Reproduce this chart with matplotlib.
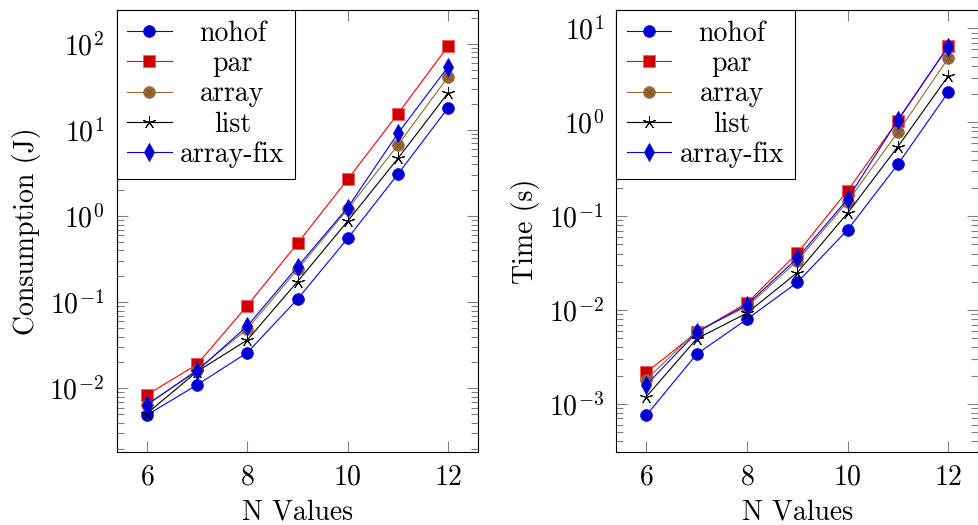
import matplotlib
matplotlib.use("Agg")
import matplotlib.pyplot as plt
from matplotlib.legend_handler import HandlerTuple

plt.rcParams['font.family'] = ['cmr10', 'DejaVu Serif']
plt.rcParams['mathtext.fontset'] = 'cm'
plt.rcParams['axes.formatter.use_mathtext'] = True
plt.rcParams['axes.unicode_minus'] = True

n_values = [6, 7, 8, 9, 10, 11, 12]
series_names = ["nohof", "par", "array", "list", "array-fix"]

energy_nohof = [0.0049, 0.011, 0.026, 0.109, 0.553, 3.09, 18.2]
energy_par = [0.0084, 0.019, 0.0914, 0.484, 2.68, 15.5, 94.8]
energy_array = [0.0064, 0.0164, 0.049, 0.241, 1.21, 6.71, 41.8]
energy_list = [0.0051, 0.0157, 0.0365, 0.174, 0.879, 4.70, 27.2]
energy_arrayfix = [0.0065, 0.016, 0.053, 0.259, 1.26, 9.18, 54.5]

time_nohof = [0.00076, 0.0034, 0.0080, 0.0197, 0.0715, 0.357, 2.08]
time_par = [0.00217, 0.0058, 0.0119, 0.0404, 0.187, 1.04, 6.48]
time_array = [0.00182, 0.0060, 0.0109, 0.0334, 0.143, 0.784, 4.8]
time_list = [0.0012, 0.00495, 0.0093, 0.0251, 0.108, 0.55, 3.11]
time_arrayfix = [0.0016, 0.0058, 0.0114, 0.0357, 0.152, 1.06, 6.38]

x_ticks = [6, 8, 10, 12]

BLUE = (0, 0, 1)
BLUE_FILL = (0, 0, 0.8)
RED = (1, 0, 0)
RED_FILL = (0.8, 0, 0)
BROWN = (0.6, 0.4, 0.2)
BROWN_DARK = (0.45, 0.3, 0.15)

LW = 0.8
MS = 8.4

fig = plt.figure(figsize=(9.79, 5.25), dpi=100)
ax1 = fig.add_axes([0.1192, 0.1396, 0.3694, 0.8413])
ax2 = fig.add_axes([0.6295, 0.1396, 0.3698, 0.8413])


def draw(ax, data, ylabel, ylim):
    nohof, par, arr, lst, afix = data
    h1, = ax.plot(n_values, nohof, color=BLUE, lw=LW, marker='o', ms=MS,
                  mfc=BLUE_FILL, mec=BLUE, mew=0.6)
    h2, = ax.plot(n_values, par, color=RED, lw=LW, marker='s', ms=MS,
                  mfc=RED_FILL, mec=(1, 0.35, 0.35), mew=0.6)
    h3, = ax.plot(n_values, arr, color=BROWN, lw=LW, marker='o', ms=MS,
                  mfc=BROWN, mec=BROWN, mew=0.6)
    h3x, = ax.plot(n_values, arr, color=BROWN_DARK, lw=0, marker='x',
                   ms=MS * 0.55, mew=0.6)
    h4, = ax.plot(n_values, lst, color='black', lw=LW, marker=(5, 2, 0),
                  ms=MS * 1.1, mew=0.7)
    h5, = ax.plot(n_values, afix, color=BLUE, lw=LW, marker='d', ms=MS * 1.1,
                  mfc=BLUE_FILL, mec=BLUE, mew=0.6)
    ax.set_yscale('log')
    ax.set_xlim(5.4, 12.6)
    ax.set_ylim(*ylim)
    ax.set_xticks(x_ticks)
    ax.tick_params(which='both', direction='in', top=True, right=True,
                   color='#808080', labelsize=20)
    ax.tick_params(which='major', length=7.8, width=0.8, pad=9)
    ax.tick_params(which='minor', length=5.2, width=0.8)
    for s in ax.spines.values():
        s.set_linewidth(0.8)
        s.set_color('black')
    ax.set_xlabel("N Values", fontsize=20, labelpad=6.5)
    ax.set_ylabel(ylabel, fontsize=20, labelpad=6)
    leg = ax.legend([h1, h2, (h3, h3x), h4, h5], series_names,
                    handler_map={tuple: HandlerTuple(ndivide=1)},
                    loc='upper left', bbox_to_anchor=(0, 1), borderaxespad=0,
                    fontsize=20, fancybox=False, framealpha=1,
                    edgecolor='black', handlelength=1.6, handletextpad=0.3,
                    labelspacing=0.14, borderpad=0.38)
    leg.get_frame().set_linewidth(0.8)
    return leg


leg1 = draw(ax1, [energy_nohof, energy_par, energy_array, energy_list, energy_arrayfix],
            "Consumption (J)", (1.84e-3, 248))
leg2 = draw(ax2, [time_nohof, time_par, time_array, time_list, time_arrayfix],
            "Time (s)", (3.1e-4, 15.7))

fig.canvas.draw()
renderer = fig.canvas.get_renderer()
for leg in (leg1, leg2):
    texts = leg.get_texts()
    widths = [t.get_window_extent(renderer).width for t in texts]
    mw = max(widths)
    for t, w in zip(texts, widths):
        t.set_x((mw - w) / 2)

fig.savefig("out.png", dpi=100)
